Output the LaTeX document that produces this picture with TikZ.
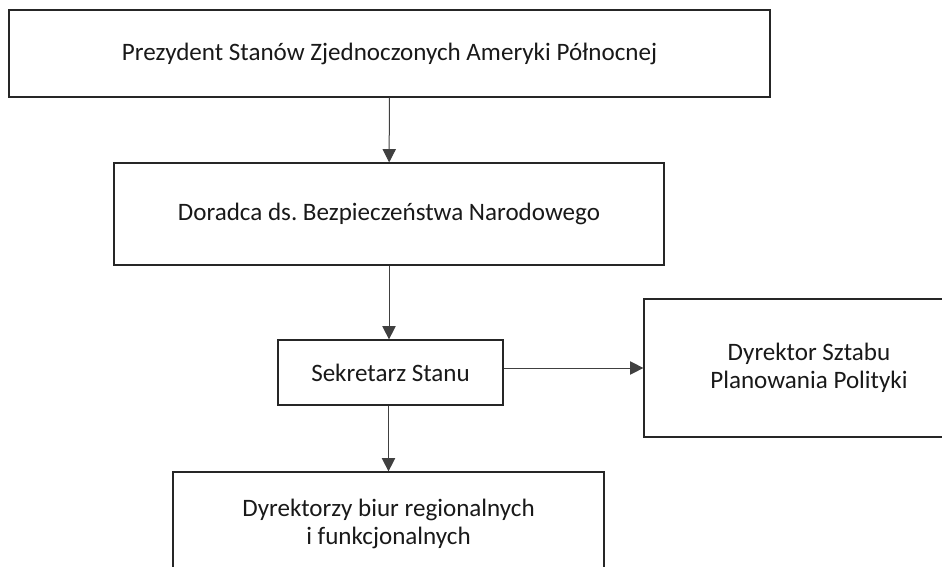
\documentclass[tikz,border=0pt]{standalone}
\usepackage{fontspec}
\setmainfont{Carlito}
\usetikzlibrary{arrows.meta}

\begin{document}
\begin{tikzpicture}[x=0.75pt,y=0.75pt,yscale=-1,xscale=1,
    unit/.style={draw=black!85, line width=0.9pt, align=center, inner sep=0pt,
        font=\fontsize{18.8}{21}\selectfont, text=black!90},
    link/.style={draw=black!75, line width=0.75pt, -{Triangle[length=10pt,width=10pt]}}]
        \clip (0,0) rectangle (942,567);

        \node [unit, minimum width=761*0.75pt, minimum height=87*0.75pt] (prezydent) at (389.5,53.5) {Prezydent Stanów Zjednoczonych Ameryki Północnej};
        \node [unit, minimum width=550*0.75pt, minimum height=102*0.75pt] (doradca) at (389,214) {Doradca ds.\ Bezpieczeństwa Narodowego};
        \node [unit, minimum width=225*0.75pt, minimum height=65*0.75pt] (sekretarz) at (390.5,372.5) {Sekretarz Stanu};
        \node [unit, minimum width=330*0.75pt, minimum height=138*0.75pt] (sztab) at (809,368) {Dyrektor Sztabu\\Planowania Polityki};
        \node [unit, minimum width=431*0.75pt, minimum height=104*0.75pt] (biura) at (388.5,524) {Dyrektorzy biur regionalnych\\i funkcjonalnych};

        \draw [link] (prezydent) -- (doradca);
        \draw [link] (doradca.south) -- (doradca.south |- sekretarz.north);
        \draw [link] (sekretarz.east |- sztab.west) -- (sztab.west);
        \draw [link] (sekretarz.south -| biura.north) -- (biura.north);
    \end{tikzpicture}
\end{document}
